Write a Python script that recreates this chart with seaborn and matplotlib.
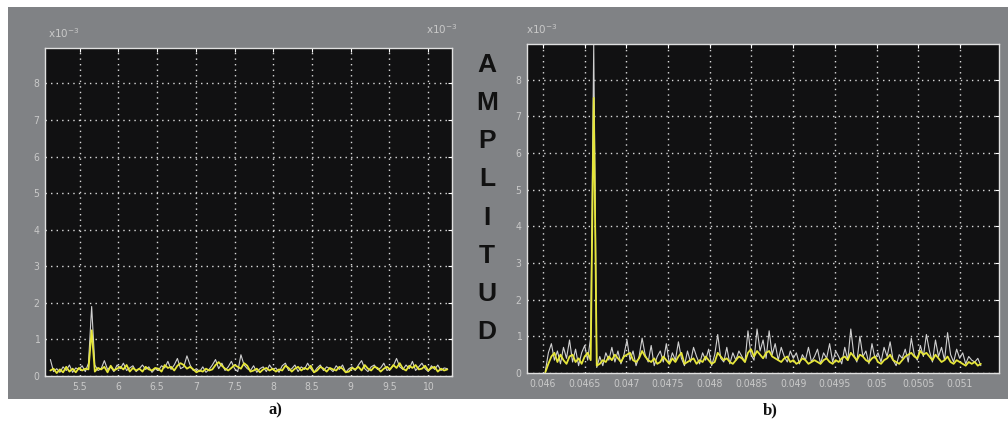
import numpy as np
import matplotlib
matplotlib.use('Agg')
import matplotlib.pyplot as plt
from matplotlib.patches import Rectangle
import seaborn as sns

# ---- data (amplitudes in units of 1e-3) ----
a_xstart, a_xstop = 5.12, 10.25          # x in units of 1e-3
a_white = [0.45, 0.12, 0.2, 0.1, 0.25, 0.15, 0.3, 0.1, 0.22, 0.18, 0.28, 0.12, 0.35,
           1.9,
           0.3, 0.15, 0.2, 0.42, 0.18, 0.25, 0.12, 0.3, 0.2, 0.35, 0.15, 0.22, 0.28, 0.12,
           0.2, 0.3, 0.18, 0.25, 0.1, 0.2, 0.15, 0.28, 0.22, 0.4, 0.18, 0.3, 0.48, 0.2,
           0.25, 0.55, 0.3, 0.15, 0.2, 0.12, 0.25, 0.1, 0.18, 0.3, 0.45, 0.2, 0.35, 0.15,
           0.25, 0.4, 0.2, 0.12, 0.58, 0.3, 0.2, 0.15, 0.28, 0.1, 0.2, 0.25, 0.12, 0.3,
           0.18, 0.22, 0.1, 0.28, 0.35, 0.15, 0.2, 0.3, 0.12, 0.25, 0.18, 0.35, 0.2, 0.1,
           0.22, 0.3, 0.15, 0.25, 0.2, 0.12, 0.28, 0.18, 0.3, 0.1, 0.2, 0.25, 0.15, 0.3,
           0.42, 0.2, 0.12, 0.25, 0.3, 0.18, 0.22, 0.35, 0.15, 0.2, 0.28, 0.48, 0.25, 0.18,
           0.3, 0.2, 0.4, 0.15, 0.25, 0.35, 0.2, 0.12, 0.28, 0.18, 0.3, 0.15, 0.22, 0.2]
a_yellow = [0.15, 0.2, 0.08, 0.18, 0.1, 0.25, 0.12, 0.2, 0.1, 0.22, 0.15, 0.2, 0.18,
            1.25,
            0.12, 0.22, 0.18, 0.25, 0.1, 0.28, 0.15, 0.2, 0.25, 0.18, 0.3, 0.12, 0.22, 0.15,
            0.2, 0.12, 0.25, 0.18, 0.15, 0.22, 0.2, 0.12, 0.3, 0.22, 0.25, 0.15, 0.28, 0.35,
            0.3, 0.2, 0.25, 0.18, 0.1, 0.15, 0.12, 0.2, 0.15, 0.18, 0.3, 0.38, 0.28, 0.2,
            0.15, 0.22, 0.3, 0.25, 0.2, 0.35, 0.28, 0.12, 0.15, 0.2, 0.1, 0.18, 0.22, 0.15,
            0.2, 0.12, 0.18, 0.15, 0.28, 0.22, 0.12, 0.2, 0.25, 0.15, 0.22, 0.18, 0.28, 0.1,
            0.15, 0.25, 0.2, 0.12, 0.22, 0.18, 0.15, 0.25, 0.2, 0.1, 0.12, 0.22, 0.18, 0.25,
            0.15, 0.3, 0.2, 0.15, 0.25, 0.22, 0.12, 0.2, 0.25, 0.18, 0.3, 0.22, 0.35, 0.2,
            0.15, 0.28, 0.22, 0.3, 0.18, 0.2, 0.28, 0.15, 0.22, 0.25, 0.12, 0.2, 0.15, 0.18]

b_xstart, b_xstop = 0.04603, 0.05125
b_white = [0.05, 0.55, 0.8, 0.35, 0.6, 0.25, 0.7, 0.4, 0.9, 0.3, 0.65, 0.2, 0.55, 0.75, 0.35, 1.0,
           8.95,
           0.15, 0.45, 0.2, 0.55, 0.35, 0.7, 0.3, 0.6, 0.25, 0.5, 0.9, 0.35, 0.6, 0.2, 0.45,
           0.95, 0.5, 0.3, 0.75, 0.2, 0.45, 0.6, 0.3, 0.8, 0.25, 0.55, 0.35, 0.85, 0.4, 0.2,
           0.6, 0.3, 0.7, 0.45, 0.25, 0.55, 0.35, 0.65, 0.2, 0.5, 1.05, 0.4, 0.3, 0.7, 0.25,
           0.55, 0.35, 0.6, 0.45, 0.3, 1.15, 0.5, 0.35, 1.2, 0.6, 0.9, 0.4, 1.15, 0.5, 0.8,
           0.35, 0.7, 0.45, 0.3, 0.6, 0.4, 0.55, 0.25, 0.5, 0.35, 0.7, 0.3, 0.45, 0.65, 0.25,
           0.55, 0.4, 0.8, 0.3, 0.6, 0.45, 0.25, 0.7, 0.35, 1.2, 0.5, 0.3, 1.0, 0.45, 0.6,
           0.25, 0.8, 0.4, 0.55, 0.3, 0.7, 0.45, 0.85, 0.35, 0.2, 0.5, 0.4, 0.65, 0.3, 0.95,
           0.5, 0.35, 0.75, 0.45, 1.05, 0.6, 0.3, 0.9, 0.45, 0.7, 0.35, 1.1, 0.5, 0.3, 0.65,
           0.4, 0.55, 0.25, 0.45, 0.35, 0.3, 0.4, 0.2]
b_yellow = [0.02, 0.25, 0.45, 0.55, 0.3, 0.5, 0.35, 0.25, 0.45, 0.5, 0.3, 0.4, 0.25, 0.45, 0.55, 0.35,
            7.5,
            0.2, 0.25, 0.35, 0.3, 0.45, 0.35, 0.5, 0.4, 0.3, 0.45, 0.5, 0.55, 0.35, 0.3, 0.4,
            0.6, 0.45, 0.35, 0.3, 0.4, 0.25, 0.3, 0.45, 0.35, 0.25, 0.4, 0.3, 0.45, 0.55, 0.25,
            0.3, 0.35, 0.4, 0.25, 0.35, 0.3, 0.45, 0.35, 0.25, 0.3, 0.55, 0.45, 0.35, 0.4, 0.3,
            0.25, 0.35, 0.45, 0.4, 0.3, 0.55, 0.65, 0.45, 0.6, 0.5, 0.4, 0.55, 0.6, 0.45, 0.4,
            0.35, 0.3, 0.4, 0.45, 0.3, 0.35, 0.25, 0.3, 0.4, 0.35, 0.25, 0.3, 0.35, 0.3, 0.25,
            0.35, 0.4, 0.3, 0.25, 0.35, 0.3, 0.4, 0.45, 0.35, 0.55, 0.45, 0.35, 0.5, 0.45, 0.35,
            0.3, 0.4, 0.45, 0.3, 0.25, 0.35, 0.4, 0.5, 0.35, 0.3, 0.25, 0.35, 0.45, 0.5, 0.55,
            0.45, 0.4, 0.6, 0.5, 0.55, 0.45, 0.35, 0.5, 0.4, 0.3, 0.35, 0.45, 0.3, 0.25, 0.35,
            0.3, 0.25, 0.2, 0.3, 0.25, 0.3, 0.2, 0.25]

a_xticks = [5.5, 6, 6.5, 7, 7.5, 8, 8.5, 9, 9.5, 10]
a_xticklabels = ['5.5', '6', '6.5', '7', '7.5', '8', '8.5', '9', '9.5', '10']
b_xticks = [0.046, 0.0465, 0.047, 0.0475, 0.048, 0.0485, 0.049, 0.0495, 0.05, 0.0505, 0.051]
b_xticklabels = ['0.046', '0.0465', '0.047', '0.0475', '0.048', '0.0485',
                 '0.049', '0.0495', '0.05', '0.0505', '0.051']
yticks = [0, 1, 2, 3, 4, 5, 6, 7, 8]
side_word = 'AMPLITUD'

GRAY = '#808285'
AXBG = '#111112'
TXT = '#c9c9c9'
WHITE_TRACE = '#d0d0d0'
YELLOW_TRACE = '#e6e63a'


def styleAx(ax, xlim, xticks, xticklabels):
    ax.set_facecolor(AXBG)
    ax.set_xlim(*xlim)
    ax.set_ylim(0, 8.97)
    ax.set_xticks(xticks)
    ax.set_xticklabels(xticklabels)
    ax.set_yticks(yticks)
    ax.set_yticklabels([str(v) for v in yticks])
    ax.grid(True, color='white', linestyle=(0, (1, 3)), linewidth=1.0, alpha=0.85)
    ax.tick_params(direction='in', length=3, color='white', labelcolor=TXT, labelsize=7.5,
                   top=True, right=True, pad=4)
    for lab in ax.get_xticklabels() + ax.get_yticklabels():
        lab.set_fontstretch('condensed')
    for s in ax.spines.values():
        s.set_color('#e0e0e0')
        s.set_linewidth(1.0)
    ax.set_xlabel('')
    ax.set_ylabel('')


if __name__ == "__main__":
    sns.set_style('dark')
    fig = plt.figure(figsize=(10.08, 4.26), dpi=100, facecolor='white')
    fig.patches.append(Rectangle((0.0079, 0.0634), 0.9921, 0.9202, transform=fig.transFigure,
                                 facecolor=GRAY, edgecolor='none', zorder=-10))

    axA = fig.add_axes([0.0446, 0.1174, 0.4038, 0.770])
    axB = fig.add_axes([0.5228, 0.1244, 0.4683, 0.7723])

    xa = np.linspace(a_xstart, a_xstop, len(a_white))
    sns.lineplot(x=xa, y=a_white, ax=axA, color=WHITE_TRACE, lw=0.8, estimator=None)
    sns.lineplot(x=np.linspace(a_xstart, a_xstop, len(a_yellow)), y=a_yellow, ax=axA,
                 color=YELLOW_TRACE, lw=1.3, estimator=None)
    styleAx(axA, (5.05, 10.31), a_xticks, a_xticklabels)

    xb = np.linspace(b_xstart, b_xstop, len(b_white))
    sns.lineplot(x=xb, y=b_white, ax=axB, color=WHITE_TRACE, lw=0.8, estimator=None)
    sns.lineplot(x=np.linspace(b_xstart, b_xstop, len(b_yellow)), y=b_yellow, ax=axB,
                 color=YELLOW_TRACE, lw=1.3, estimator=None)
    styleAx(axB, (0.04581, 0.051468), b_xticks, b_xticklabels)

    # exponent labels (MATLAB style)
    fig.text(0.048, 0.905, r'x10$^{-3}$', color=TXT, fontsize=7.5, ha='left', va='bottom')
    fig.text(0.423, 0.915, r'x10$^{-3}$', color=TXT, fontsize=7.5, ha='left', va='bottom')
    fig.text(0.522, 0.915, r'x10$^{-3}$', color=TXT, fontsize=7.5, ha='left', va='bottom')

    # vertical side word
    ys = np.linspace(0.847, 0.221, len(side_word))
    for ch, yy in zip(side_word, ys):
        fig.text(0.483, yy, ch, color='#111111', fontsize=19, fontweight='bold',
                 family='Liberation Sans', ha='center', va='center')

    fig.text(0.2728, 0.037, 'a)', fontsize=12, fontweight='bold', family='Liberation Serif',
             ha='center', va='center', color='#111111')
    fig.text(0.7639, 0.037, 'b)', fontsize=12, fontweight='bold', family='Liberation Serif',
             ha='center', va='center', color='#111111')

    fig.savefig('out.png', dpi=100, facecolor='white')
